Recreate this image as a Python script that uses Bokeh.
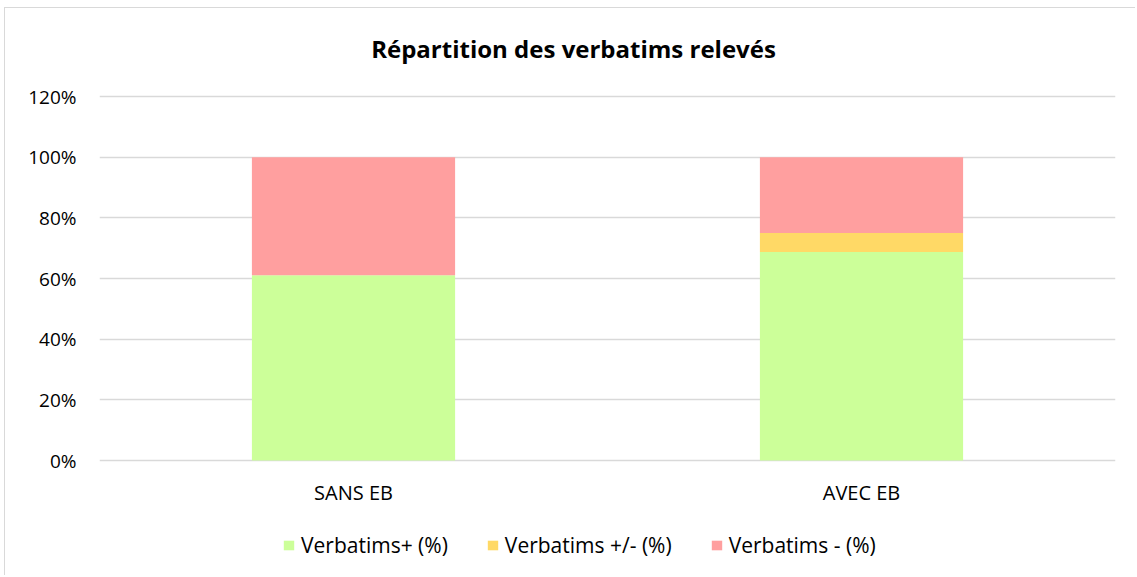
from bokeh.plotting import figure
from bokeh.models import ColumnDataSource, FactorRange, Range1d, NumeralTickFormatter, FixedTicker, Legend
from bokeh.core.properties import value
from bokeh.embed import file_html
from bokeh.resources import INLINE

categories = ["SANS EB", "AVEC EB"]
verb_plus = [0.611, 0.6875]
verb_mixed = [0.0, 0.0625]
verb_minus = [0.389, 0.25]
series = ["Verbatims+ (%)", "Verbatims +/- (%)", "Verbatims - (%)"]
colors = ["#CCFF99", "#FFD966", "#FF9F9F"]
y_ticks = [0, 0.2, 0.4, 0.6, 0.8, 1.0, 1.2]
title_text = "Répartition des verbatims relevés"

FONT = "Open Sans"

# pixel geometry (layout only)
PX_PER_UNIT = 364 / 1.2          # 0% -> 120% spans 364 px
ZERO_FROM_TOP = 452              # 0% line, px below the canvas top
FRAME_H = 567
y_top = ZERO_FROM_TOP / PX_PER_UNIT
y_bot = -(FRAME_H - ZERO_FROM_TOP) / PX_PER_UNIT

src = ColumnDataSource(dict(cat=categories, plus=verb_plus, mixed=verb_mixed, minus=verb_minus))

p = figure(frame_width=1016, frame_height=FRAME_H, x_range=FactorRange(*categories),
           y_range=Range1d(y_bot, y_top), title=None,
           output_backend="svg", toolbar_location=None,
           min_border_left=94, min_border_right=20, min_border_top=0, min_border_bottom=0,
           styles={"border-left": "1px solid #d9d9d9", "border-top": "1px solid #d9d9d9",
                   "margin-left": "4px", "margin-top": "7px"})

renderers = p.vbar_stack(["plus", "mixed", "minus"], x="cat", width=0.4, source=src,
                         color=colors, line_color=None)

p.outline_line_color = None
p.xgrid.grid_line_color = None
p.ygrid.grid_line_color = "#d9d9d9"
p.ygrid.grid_line_width = 1.3
p.xaxis.visible = False

p.yaxis.ticker = FixedTicker(ticks=y_ticks)
p.yaxis.formatter = NumeralTickFormatter(format="0%")
p.yaxis.axis_line_color = None
p.yaxis.major_tick_line_color = None
p.yaxis.minor_tick_line_color = None
p.yaxis.major_tick_out = 0
p.yaxis.major_label_text_font = FONT
p.yaxis.major_label_text_font_size = "19px"
p.yaxis.major_label_text_color = "#000000"
p.yaxis.major_label_standoff = 23

# category labels under the bars
p.text(x=categories, y=[-32 / PX_PER_UNIT] * len(categories), text=categories,
       text_font=value(FONT), text_font_size="20px", text_color="#000000",
       text_align="center", text_baseline="middle")

# chart title
p.text(x=[categories[0]], y=[(452 - 40) / PX_PER_UNIT], text=[title_text], x_offset=220,
       text_font=value(FONT), text_font_size="24px", text_font_style="bold",
       text_color="#000000", text_align="center", text_baseline="middle")

legend = Legend(items=[(s, [r]) for s, r in zip(series, renderers)], orientation="horizontal",
                location=(183, 16))
legend.label_text_font = FONT
legend.label_text_font_size = "21px"
legend.label_text_color = "#000000"
legend.glyph_width = 13
legend.glyph_height = 12
legend.label_standoff = 6
legend.spacing = 38
legend.border_line_color = None
legend.background_fill_alpha = 0
legend.margin = 0
legend.padding = 0
p.add_layout(legend, "center")

open("out.html", "w").write(file_html(p, INLINE))
